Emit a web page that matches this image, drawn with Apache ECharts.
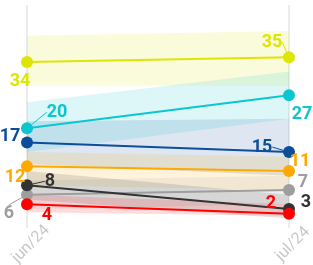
<!DOCTYPE html>
<html>
<head>
<meta charset="utf-8">
<script src="https://cdn.jsdelivr.net/npm/echarts@6/dist/echarts.min.js"></script>
<style>
  html, body { margin: 0; padding: 0; background: #fff; }
  #main { width: 313px; height: 265px; }
</style>
</head>
<body>
<div id="main"></div>
<script>
// months on the x axis
const months = ['jun/24', 'jul/24']

// series values (two months each)
const names = ['a', 'b', 'c', 'd', 'e', 'f', 'g']
const values = [
  [34, 35],
  [20, 27],
  [17, 15],
  [12, 11],
  [6, 7],
  [8, 3],
  [4, 2]
]
// shaded ranges around each line
const bandLow = [
  [29, 29],
  [15, 22],
  [12.5, 10],
  [8, 7],
  [3, 4],
  [5, 1],
  [2.3, 1.6]
]
const bandHigh = [
  [39.5, 40.5],
  [25.5, 32],
  [21.5, 22],
  [15, 14],
  [9, 10],
  [11, 6],
  [6, 4]
]

const colors = ['#dde600', '#0bc6d0', '#0c4e9a', '#ffa800', '#9e9e9e', '#333333', '#ff0000']

// label offsets from the point [left, right] and whether a guide line is drawn
const labelOff = [
  [[-7, 20], [-17, -15]],
  [[30, -16], [13, 19]],
  [[-17, -6], [-27, -5]],
  [[-12, 11], [11, -10]],
  [[-18, 19], [14, -8]],
  [[23, -4], [17, -7]],
  [[20, 11], [-18, -10]]
]
const labelLines = [
  [false, true],
  [true, false],
  [false, true],
  [false, false],
  [true, false],
  [true, false],
  [false, false]
]

var myChart = echarts.init(document.getElementById('main'))

var series = []
values.forEach(function (v, i) {
  series.push({
    name: names[i] + '_low',
    type: 'line',
    stack: 'band' + i,
    data: bandLow[i],
    symbol: 'none',
    lineStyle: { opacity: 0 },
    silent: true,
    z: 1
  })
  series.push({
    name: names[i] + '_band',
    type: 'line',
    stack: 'band' + i,
    data: bandHigh[i].map(function (h, k) { return h - bandLow[i][k] }),
    symbol: 'none',
    lineStyle: { opacity: 0 },
    areaStyle: { color: colors[i], opacity: 0.14 },
    silent: true,
    z: 1
  })
})
values.forEach(function (v, i) {
  series.push({
    name: names[i],
    type: 'line',
    data: v.map(function (val, k) {
      return { value: val, labelLine: { show: labelLines[i][k] } }
    }),
    symbol: 'circle',
    symbolSize: 12,
    color: colors[i],
    lineStyle: { width: 2, color: colors[i] },
    itemStyle: { color: colors[i] },
    z: 3,
    label: {
      show: true,
      color: colors[i],
      fontFamily: 'Roboto',
      fontWeight: 'bold',
      fontSize: 18
    },
    labelLine: { lineStyle: { color: colors[i], width: 1 } },
    labelLayout: function (p) {
      var o = labelOff[i][p.dataIndex]
      return {
        x: p.rect.x + p.rect.width / 2 + o[0],
        y: p.rect.y + p.rect.height / 2 + o[1],
        align: 'center',
        verticalAlign: 'middle'
      }
    }
  })
})

var option = {
  animation: false,
  grid: { left: 27, right: 24, top: 5, bottom: 37, outerBoundsMode: 'none' },
  xAxis: {
    type: 'category',
    data: months,
    boundaryGap: false,
    axisLine: { show: false },
    axisTick: { show: false },
    splitLine: { show: true, lineStyle: { color: '#e6e6e6', width: 1.5 } },
    axisLabel: {
      rotate: 45,
      align: 'center',
      verticalAlign: 'middle',
      margin: 20,
      padding: [0, 0, 0, 11],
      color: '#c8c8c8',
      fontFamily: 'Roboto',
      fontSize: 16
    }
  },
  yAxis: {
    type: 'value',
    min: -1,
    max: 46,
    show: false,
    splitLine: { show: false }
  },
  series: series
}
myChart.setOption(option)
</script>
</body>
</html>
